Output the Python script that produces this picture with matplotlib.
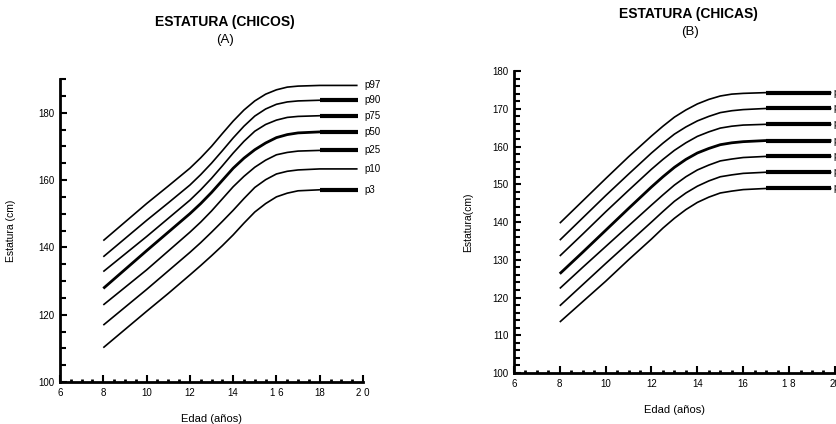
import matplotlib
matplotlib.use("Agg")
import matplotlib.pyplot as plt
from matplotlib.ticker import MultipleLocator, FixedLocator, FixedFormatter

plt.rcParams['font.family'] = ['Liberation Sans', 'DejaVu Sans']

# percentile curves, height in cm by age in years
percentiles = ['p97', 'p90', 'p75', 'p50', 'p25', 'p10', 'p3']

ages_boys = [8, 9, 10, 11, 12, 12.5, 13, 13.5, 14, 14.5, 15, 15.5, 16, 16.5, 17, 18, 19.75]
boys = {
    'p97': [142.0, 147.5, 153.0, 158.2, 163.5, 166.6, 170.0, 173.8, 177.5, 180.8, 183.5, 185.5, 186.8, 187.6, 187.9, 188.1, 188.1],
    'p90': [137.2, 142.6, 148.0, 153.2, 158.5, 161.6, 165.0, 168.7, 172.5, 176.0, 179.0, 181.1, 182.5, 183.2, 183.5, 183.7, 183.7],
    'p75': [132.8, 138.0, 143.2, 148.6, 154.0, 157.1, 160.5, 164.2, 168.0, 171.5, 174.5, 176.5, 177.8, 178.6, 178.9, 179.1, 179.1],
    'p50': [127.8, 133.4, 139.0, 144.5, 150.0, 153.0, 156.3, 159.9, 163.5, 166.5, 169.0, 171.0, 172.6, 173.5, 174.0, 174.3, 174.3],
    'p25': [122.9, 128.1, 133.3, 138.9, 144.5, 147.5, 150.8, 154.4, 158.0, 161.1, 163.8, 165.9, 167.5, 168.2, 168.6, 168.8, 168.8],
    'p10': [116.9, 122.2, 127.5, 133.0, 138.5, 141.4, 144.5, 147.7, 151.0, 154.5, 157.8, 160.1, 161.8, 162.6, 163.0, 163.3, 163.3],
    'p3':  [110.2, 115.6, 121.0, 126.3, 131.8, 134.6, 137.5, 140.5, 143.7, 147.2, 150.5, 153.0, 155.0, 156.1, 156.8, 157.1, 157.1],
}
# curves whose adult plateau is printed heavy
heavy_boys = ['p90', 'p75', 'p50', 'p25', 'p3']

ages_girls = [8, 9, 10, 11, 12, 12.5, 13, 13.5, 14, 14.5, 15, 15.5, 16, 17, 19.85]
girls = {
    'p97': [139.7, 145.6, 151.5, 157.3, 162.8, 165.4, 167.8, 169.7, 171.3, 172.5, 173.4, 173.9, 174.1, 174.3, 174.3],
    'p90': [135.2, 141.1, 147.0, 152.7, 158.3, 160.9, 163.3, 165.2, 166.8, 168.0, 169.0, 169.5, 169.8, 170.1, 170.1],
    'p75': [131.0, 136.8, 142.7, 148.4, 154.0, 156.6, 159.0, 161.0, 162.7, 163.9, 164.9, 165.4, 165.7, 165.9, 165.9],
    'p50': [126.3, 132.0, 137.8, 143.6, 149.3, 152.0, 154.5, 156.6, 158.3, 159.5, 160.5, 161.0, 161.3, 161.6, 161.6],
    'p25': [122.4, 128.0, 133.5, 139.0, 144.5, 147.2, 149.8, 152.0, 153.8, 155.1, 156.2, 156.7, 157.1, 157.4, 157.4],
    'p10': [117.8, 123.4, 129.0, 134.5, 140.0, 142.8, 145.5, 147.7, 149.5, 150.9, 152.0, 152.5, 152.9, 153.2, 153.2],
    'p3':  [113.5, 118.9, 124.3, 130.0, 135.5, 138.4, 141.0, 143.3, 145.2, 146.6, 147.7, 148.2, 148.6, 148.9, 148.9],
}
heavy_girls = percentiles

xticks = [6, 8, 10, 12, 14, 16, 18, 20]
xlabels_boys = ['6', '8', '10', '12', '14', '1 6', '18', '2 0']
xlabels_girls = ['6', '8', '10', '12', '14', '16', '1 8', '20']


def style_axes(ax, ylim, ymajor, yminor, xlabels):
    ax.set_xlim(6, 20)
    ax.set_ylim(*ylim)
    for s in ['top', 'right']:
        ax.spines[s].set_visible(False)
    for s in ['left', 'bottom']:
        ax.spines[s].set_linewidth(2)
    ax.xaxis.set_major_locator(FixedLocator(xticks))
    ax.xaxis.set_major_formatter(FixedFormatter(xlabels))
    ax.xaxis.set_minor_locator(MultipleLocator(0.5))
    ax.yaxis.set_major_locator(MultipleLocator(ymajor))
    ax.yaxis.set_minor_locator(MultipleLocator(yminor))
    ax.tick_params(direction='in', length=5, width=1.5, labelsize=7, pad=4)
    ax.tick_params(which='minor', direction='in', length=2.5, width=2)
    ax.tick_params(axis='y', which='minor', length=4.5, width=1.5)


def draw_curves(ax, ages, table, heavy, label_dx):
    for p in percentiles:
        lw = 2.0 if p == 'p50' else 1.2
        ax.plot(ages, table[p], color='black', lw=lw, solid_capstyle='butt')
        if p in heavy:
            # heavy plateau from the last plotted year onwards
            ax.plot(ages[-2:], table[p][-2:], color='black', lw=3, solid_capstyle='butt')
        ax.text(ages[-1] + label_dx, table[p][-1], p, fontsize=7, va='center', ha='left')


fig = plt.figure(figsize=(8.37, 4.24), dpi=100)

# boys
ax1 = fig.add_axes([0.0717, 0.099, 0.362, 0.7146])
draw_curves(ax1, ages_boys, boys, heavy_boys, 0.3)
style_axes(ax1, (100, 190), 20, 5, xlabels_boys)
ax1.set_xlabel('Edad (años)', fontsize=8, labelpad=12)
ax1.set_ylabel('Estatura (cm)', fontsize=7.5, labelpad=16)
fig.text(0.269, 0.948, 'ESTATURA (CHICOS)', fontsize=10, fontweight='bold', ha='center', va='center')
fig.text(0.269, 0.906, '(A)', fontsize=9.5, ha='center', va='center')

# girls
ax2 = fig.add_axes([0.614, 0.1203, 0.3835, 0.712])
draw_curves(ax2, ages_girls, girls, heavy_girls, 0.1)
style_axes(ax2, (100, 180), 10, 2, xlabels_girls)
ax2.set_xlabel('Edad (años)', fontsize=8, labelpad=12)
ax2.set_ylabel('Estatura(cm)', fontsize=7.5, labelpad=14)
fig.text(0.822, 0.967, 'ESTATURA (CHICAS)', fontsize=10, fontweight='bold', ha='center', va='center')
fig.text(0.824, 0.925, '(B)', fontsize=9.5, ha='center', va='center')

fig.savefig('out.png', dpi=100)
